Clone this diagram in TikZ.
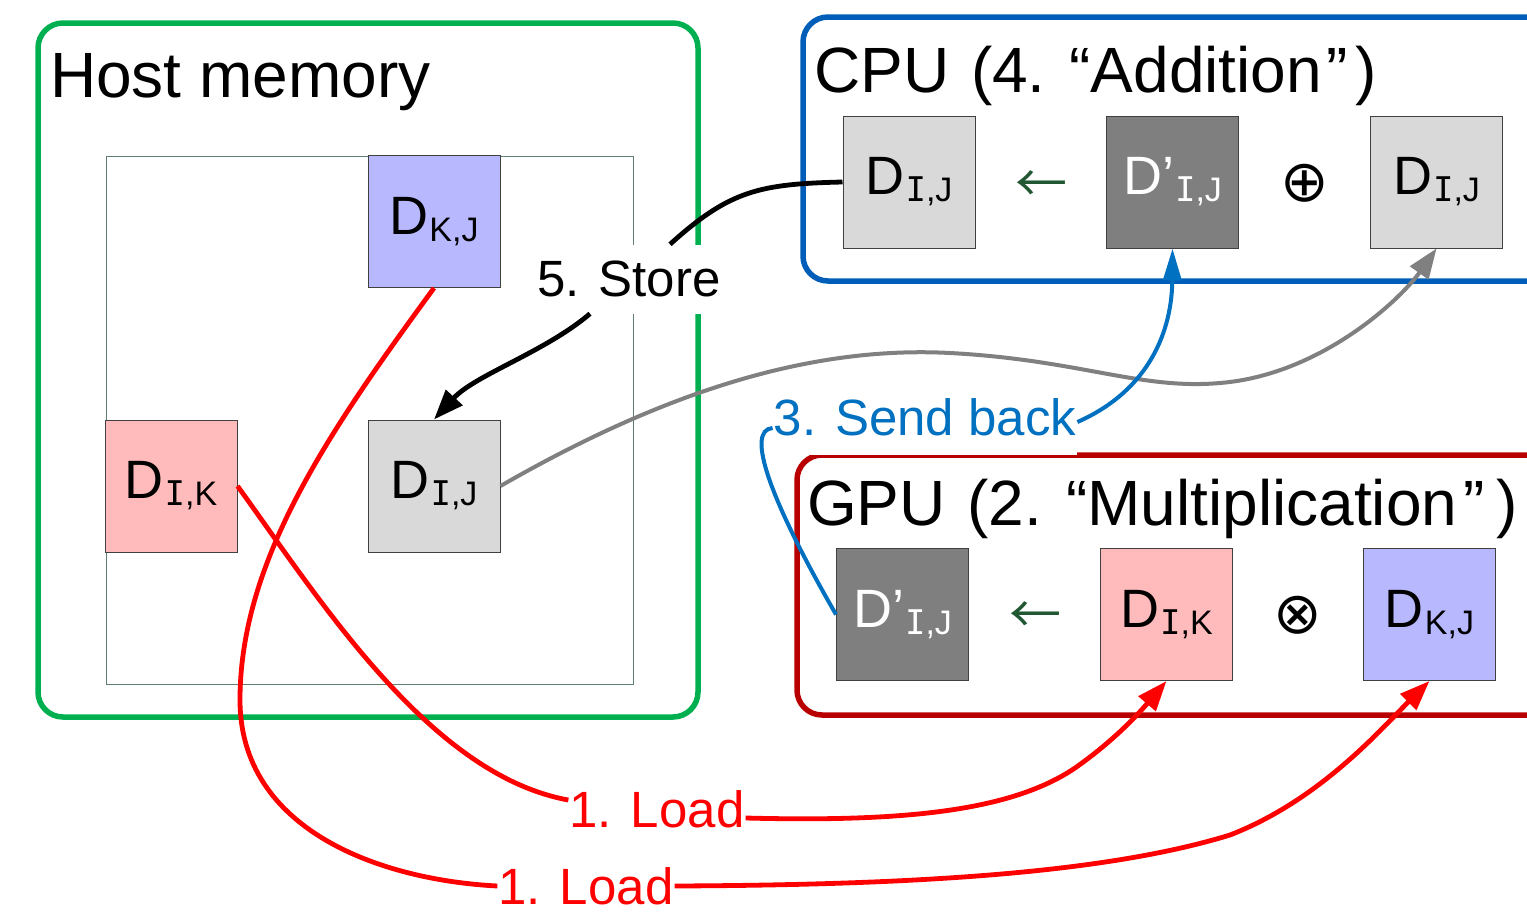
\documentclass[tikz,border=0pt]{standalone}
\usepackage{fontspec}
\setmainfont{Liberation Sans}
\newfontfamily\cjkfont{Noto Sans CJK JP}
\newfontfamily\symfont{DejaVu Sans}
\newfontfamily\slabfont{DejaVu Sans Mono}
\usetikzlibrary{arrows.meta}

\definecolor{hostgreen}{HTML}{00B050}
\definecolor{cpublue}{HTML}{005EB8}
\definecolor{gpured}{HTML}{B80000}
\definecolor{sendblue}{HTML}{0070C0}
\definecolor{loadred}{HTML}{FF0000}
\definecolor{backgray}{HTML}{808080}
\definecolor{gridedge}{HTML}{5F7F6F}
\definecolor{blkedge}{HTML}{404040}
\definecolor{kjfill}{HTML}{B8B8FF}
\definecolor{ikfill}{HTML}{FFBBBB}
\definecolor{ijfill}{HTML}{D9D9D9}
\definecolor{dpfill}{HTML}{7F7F7F}
\definecolor{opgreen}{HTML}{215732}

% matrix block label: main letter with a lowered index
\newcommand\blocklabel[2]{#1\kern1pt\raisebox{-7pt}{\fontsize{34}{34}\selectfont #2}}
\newcommand\idxI{{\slabfont I}}

\tikzset{
  frame/.style={line width=5.5pt, rounded corners=25pt},
  title/.style={anchor=base west, inner sep=0pt, font=\fontsize{64}{64}\selectfont},
  blk/.style={draw=blkedge, line width=1pt, minimum width=132pt, minimum height=132pt,
    inner sep=0pt, font=\fontsize{54}{54}\selectfont},
  op/.style={inner sep=0pt, font=\symfont\fontsize{58}{58}\selectfont},
  arr/.style={inner sep=0pt, font=\cjkfont\fontsize{52}{52}\selectfont, text=opgreen},
  lbl/.style={inner sep=1pt, font=\fontsize{51}{51}\selectfont},
  tip/.style={-{Triangle[length=30pt, width=22pt]}},
  load/.style={draw=loadred, line width=4.8pt},
  store/.style={draw=black, line width=4.8pt},
  back/.style={draw=backgray, line width=4pt},
  send/.style={draw=sendblue, line width=4pt},
}

\begin{document}
\begin{tikzpicture}[x=1pt, y=-1pt]
\clip (0,0) rectangle (1527,918);
\fill[white] (0,0) rectangle (1527,918);

% host memory
\draw[frame, hostgreen] (38,23) rectangle (698,717);
\node[title] (hosttitle) at (50,97) {Host memory};
\node[draw=gridedge, line width=1pt, minimum width=527pt, minimum height=528pt, inner sep=0pt]
  (grid) at (369.5,420) {};
\node[blk, fill=kjfill] (hKJ) at (434,221.5) {\blocklabel{D}{K,J}};
\node[blk, fill=ikfill] (hIK) at (171,486) {\blocklabel{D}{\idxI,K}};
\node[blk, fill=ijfill] (hIJ) at (434,486) {\blocklabel{D}{\idxI,J}};

% CPU
\draw[frame, cpublue] (803,17) rectangle (1600,281);
\node[title] (cputitle) at (814,92) {CPU \kern4pt(4. “Addition\kern4pt”\kern8pt)};
\node[blk, fill=ijfill] (cIJa) at (909,182) {\blocklabel{D}{\idxI,J}};
\node[blk, fill=dpfill, text=white] (cDp) at (1172.5,182) {\blocklabel{D’}{\idxI,J}};
\node[blk, fill=ijfill] (cIJb) at (1436.5,182) {\blocklabel{D}{\idxI,J}};
\node[arr] (cArr) at (1041,187) {←};
\node[op] (cPlus) at (1305,183) {⊕};

% GPU
\draw[frame, gpured] (797,455) rectangle (1600,715);
\node[title] (gputitle) at (807,525) {GPU \kern4pt(2. “Multiplication\kern6pt”\kern12pt)};
\node[blk, fill=dpfill, text=white] (gDp) at (902.5,614.5) {\blocklabel{D’}{\idxI,J}};
\node[blk, fill=ikfill] (gIK) at (1166.5,614.5) {\blocklabel{D}{\idxI,K}};
\node[blk, fill=kjfill] (gKJ) at (1429.5,614.5) {\blocklabel{D}{K,J}};
\node[arr] (gArr) at (1035,618) {←};
\node[op] (gTimes) at (1298,615) {⊗};

% step labels
\node[lbl, text=loadred] (ld1) at (657,809) {1. Load};
\node[lbl, text=loadred] (ld2) at (586,886) {1. Load};

% 1. load D_{I,K}
\draw[load] (hIK.east) .. controls (320,600) and (430,775) .. ([yshift=9pt]ld1.west);
\draw[load, tip] ([yshift=-9pt]ld1.east) .. controls (900,822) and (1010,812) .. (1075,768)
  .. controls (1115,740) and (1140,712) .. (gIK.south);
% 1. load D_{K,J}
\draw[load] (hKJ.south) .. controls (330,430) and (240,560) .. (240,700)
  .. controls (240,830) and (380,880) .. (ld2.west);
\draw[load, tip] (ld2.east) .. controls (900,885) and (1100,875) .. (1230,835)
  .. controls (1320,800) and (1380,730) .. (gKJ.south);

% 4. result back to the CPU for addition
\draw[back, tip] (hIJ.east) .. controls (650,400) and (800,345) .. (950,353)
  .. controls (1080,360) and (1140,390) .. (1220,383)
  .. controls (1320,375) and (1400,300) .. (cIJb.south);

% 3. send back / 5. store (labels on white, over the frames)
\node[lbl, fill=white, minimum height=69pt] (st) at (629,279) {5. Store};
\node[lbl, fill=white, text=sendblue, minimum height=76pt] (sb) at (925,417) {3. Send back};

\draw[send] (gDp.west) .. controls (770,500) and (745,430) .. ([yshift=-11pt]sb.west);
\draw[send, -{Triangle[length=32pt, width=18pt]}] ([yshift=-5pt]sb.east)
  .. controls (1150,390) and (1172,330) .. (cDp.south);

\draw[store] (cIJa.west) .. controls (760,184) and (730,190) .. ([xshift=41pt]st.north);
\draw[store, tip] ([xshift=-39pt]st.south) .. controls (545,352) and (475,375) .. (hIJ.north);
\end{tikzpicture}
\end{document}
